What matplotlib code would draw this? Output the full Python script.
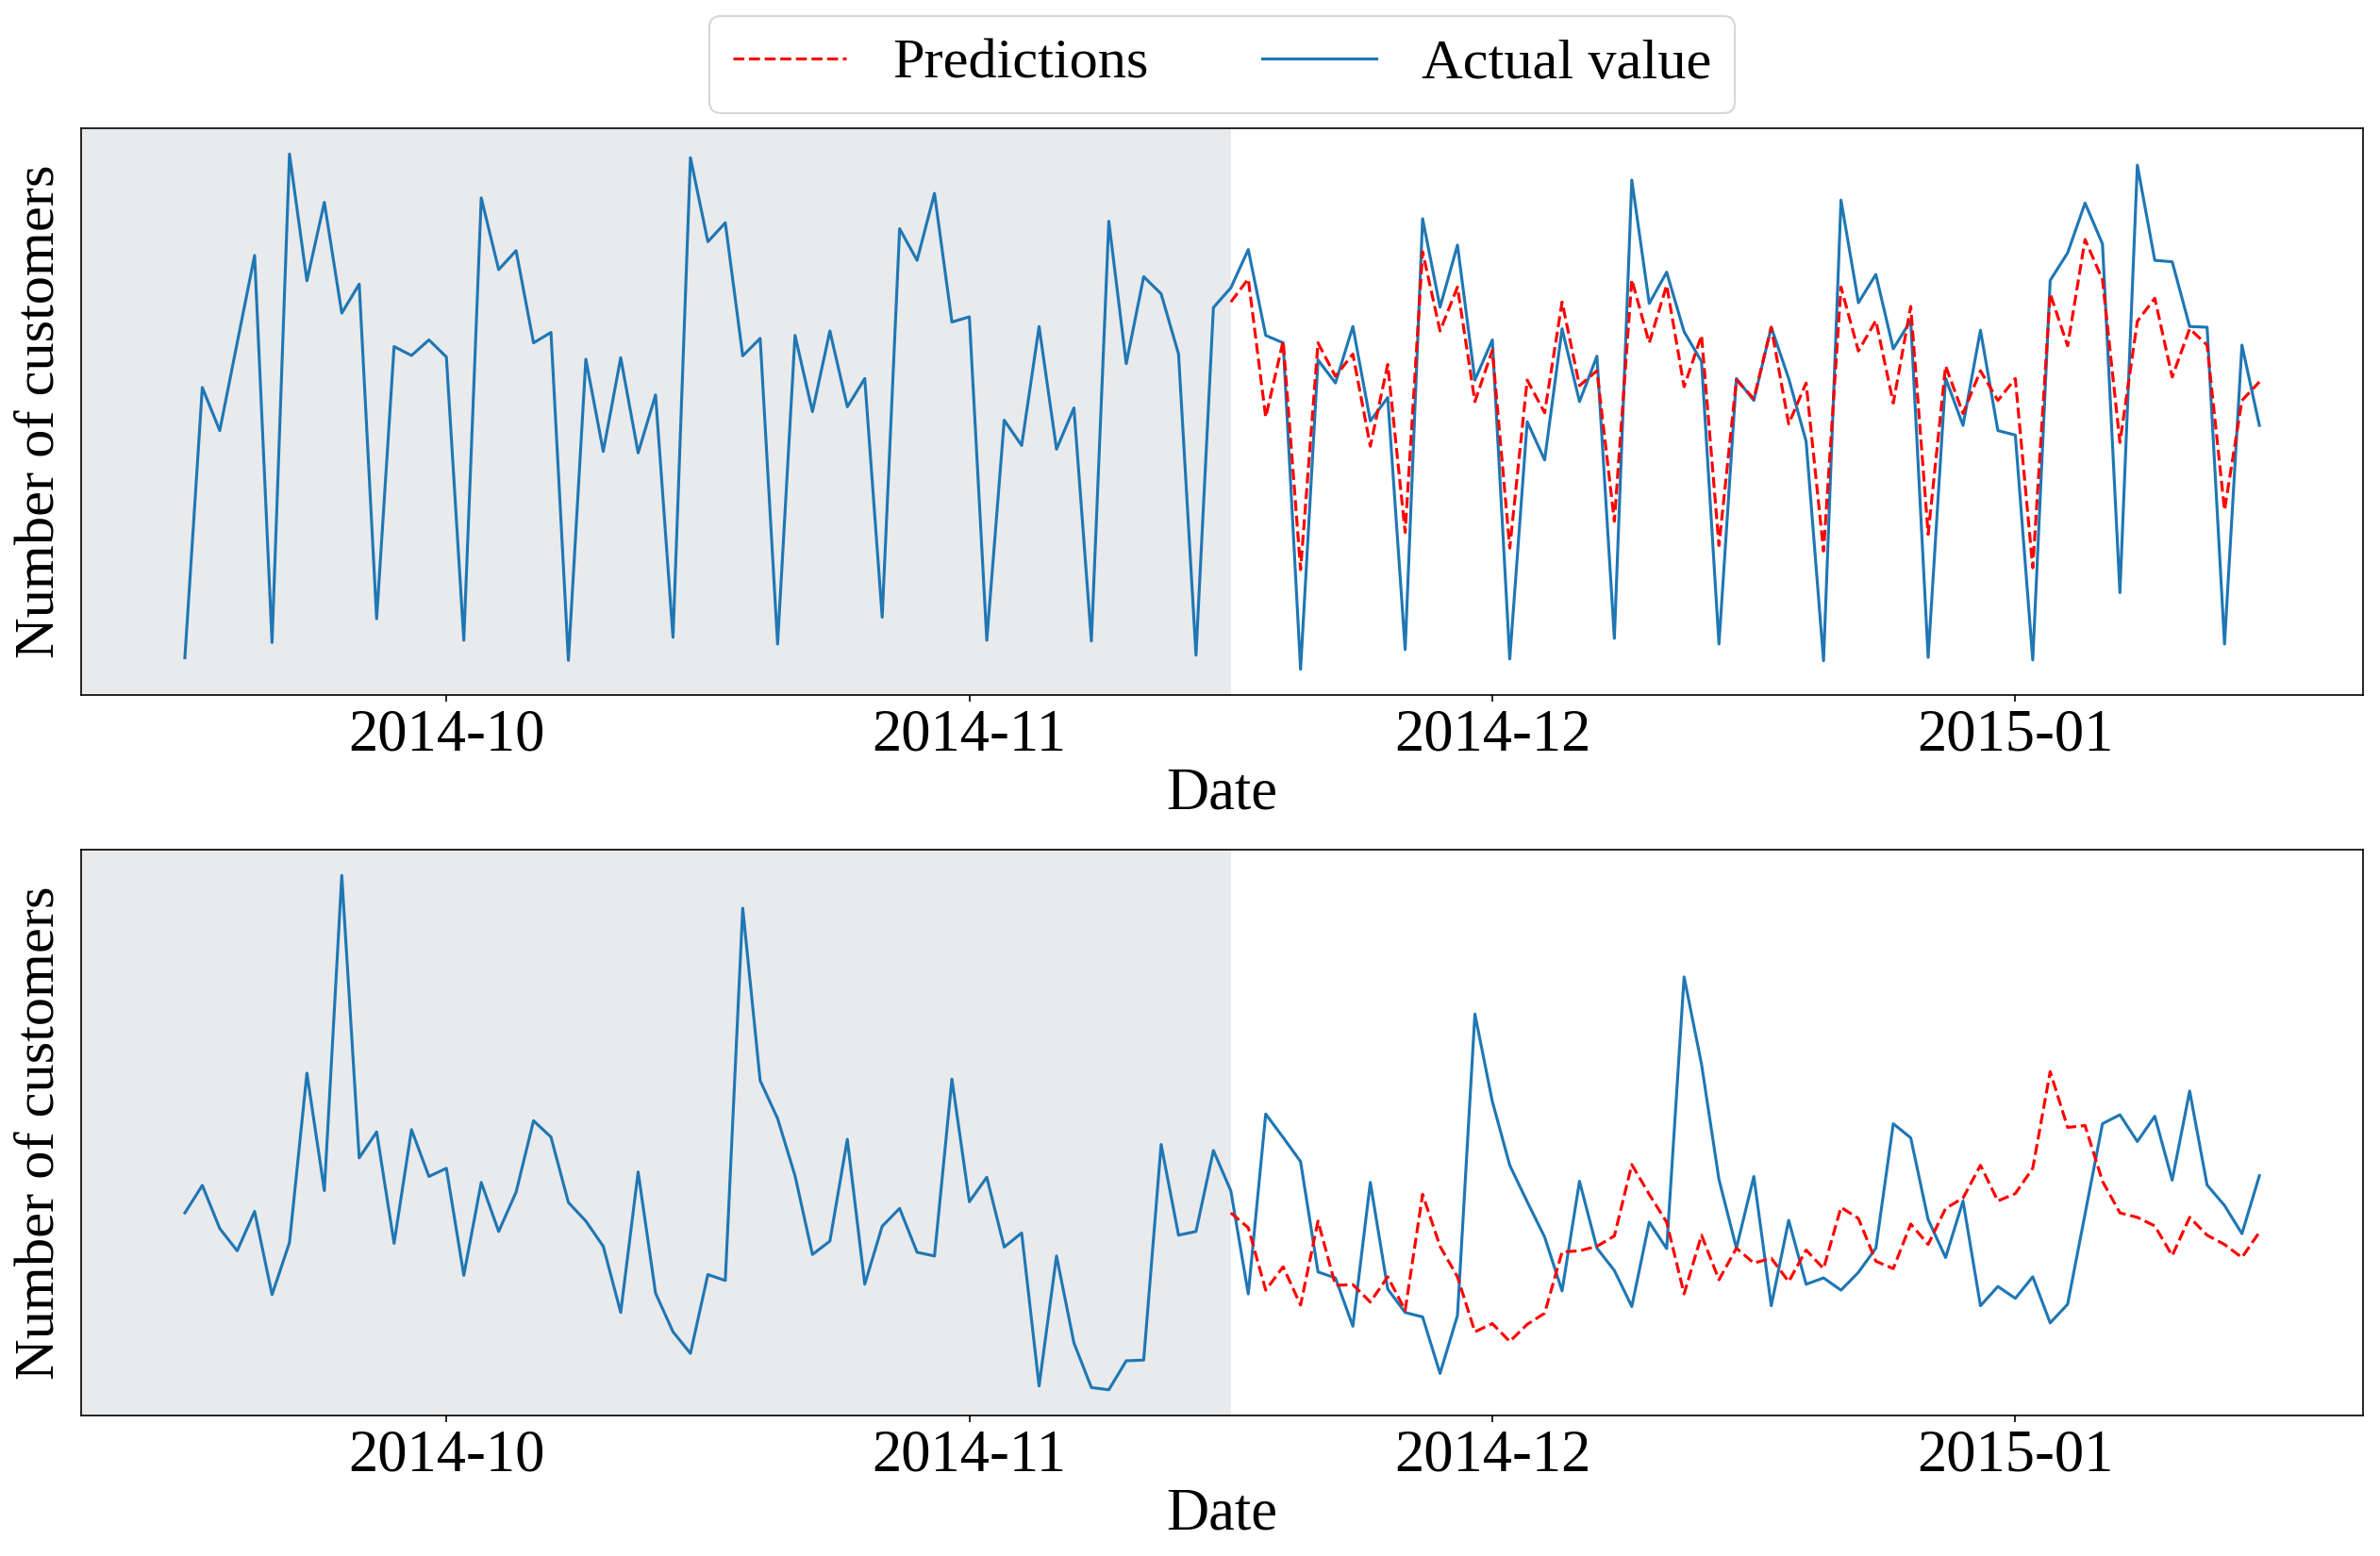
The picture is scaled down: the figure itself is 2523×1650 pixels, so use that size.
import matplotlib.pyplot as plt
import numpy as np

plt.rcParams['font.family'] = ['Liberation Serif', 'DejaVu Serif']
FS = 30

# daily customers, 120 days; first 60 used for training, last 60 predicted
store_a_actual = [163, 890, 774, 1010, 1245, 204, 1518, 1177, 1388, 1090,
                  1168, 268, 1000, 976, 1018, 972, 210, 1400, 1207, 1258,
                  1010, 1038, 156, 966, 718, 970, 714, 870, 218, 1508,
                  1282, 1333, 975, 1022, 200, 1030, 825, 1042, 838, 914,
                  272, 1317, 1232, 1412, 1066, 1080, 210, 802, 734, 1054,
                  724, 835, 208, 1337, 954, 1188, 1142, 980, 170, 1105,
                  1158, 1261, 1030, 1010, 132, 964, 902, 1054, 800, 863,
                  185, 1344, 1106, 1273, 910, 1018, 160, 798, 695, 1048,
                  852, 974, 215, 1448, 1116, 1200, 1040, 960, 200, 914,
                  855, 1052, 914, 745, 155, 1394, 1118, 1194, 994, 1070,
                  164, 915, 788, 1044, 774, 762, 157, 1178, 1252, 1386,
                  1276, 338, 1488, 1232, 1228, 1054, 1052, 200, 1004, 788]
store_a_pred = [1120, 1182, 810, 1015, 400, 1010, 920, 980, 732, 952,
                500, 1255, 1042, 1160, 852, 990, 458, 910, 822, 1120,
                895, 935, 530, 1180, 1010, 1165, 892, 1030, 465, 910,
                860, 1052, 792, 902, 450, 1160, 988, 1070, 848, 1108,
                495, 948, 820, 935, 855, 914, 405, 1142, 1002, 1288,
                1180, 742, 1068, 1130, 918, 1048, 1004, 560, 855, 905]

store_b_actual = [600, 674, 558, 498, 604, 380, 520, 976, 660, 1508,
                  748, 818, 518, 824, 698, 720, 432, 682, 550, 656,
                  848, 804, 628, 578, 510, 332, 710, 384, 280, 222,
                  434, 418, 1420, 956, 854, 700, 488, 524, 798, 408,
                  564, 612, 494, 484, 960, 630, 696, 508, 546, 134,
                  484, 250, 130, 124, 202, 204, 784, 540, 550, 768,
                  659, 382, 866, 803, 738, 441, 425, 295, 682, 395,
                  332, 320, 168, 324, 1135, 900, 728, 630, 535, 390,
                  685, 505, 445, 348, 575, 504, 1235, 1000, 690, 505,
                  698, 350, 580, 408, 425, 392, 440, 505, 840, 802,
                  582, 480, 632, 350, 402, 370, 428, 304, 354, 597,
                  840, 864, 792, 860, 688, 928, 675, 620, 544, 700]
store_b_pred = [600, 560, 392, 455, 352, 578, 405, 407, 360, 428,
                338, 650, 510, 428, 280, 302, 254, 300, 330, 495,
                498, 510, 538, 730, 650, 575, 382, 540, 420, 505,
                465, 478, 415, 500, 450, 615, 585, 470, 450, 570,
                515, 612, 640, 728, 632, 652, 720, 980, 830, 835,
                685, 600, 588, 565, 485, 588, 540, 515, 480, 548]

split_index = 60
tick_positions = [15, 45, 75, 105]
tick_labels = ['2014-10', '2014-11', '2014-12', '2015-01']

fig = plt.figure(figsize=(16.82, 11.0), dpi=150)
boxes = [[0.0341, 0.5533, 0.9588, 0.3643],
         [0.0341, 0.0903, 0.9588, 0.3636]]
series = [(store_a_actual, store_a_pred), (store_b_actual, store_b_pred)]

for box, (actual, pred) in zip(boxes, series):
    ax = fig.add_axes(box)
    x = np.arange(len(actual))
    actual_line, = ax.plot(x, actual, color='#1f77b4', label='Actual value')
    pred_line, = ax.plot(x[split_index:], pred, 'r--', label='Predictions')
    # shade the training window
    xlim = ax.get_xlim()
    ax.axvspan(xlim[0], split_index, color='#e9eaec', zorder=0, lw=0)
    ax.set_xlim(xlim)
    ax.set_yticks([])
    ax.set_xticks(tick_positions, tick_labels, fontsize=FS)
    ax.set_xlabel('Date', fontsize=FS, labelpad=2)
    ax.set_ylabel('Number of customers', fontsize=29, labelpad=8)

fig.legend(handles=[pred_line, actual_line], loc='upper center',
           bbox_to_anchor=(0.5135, 0.99), borderaxespad=0, ncol=2,
           fontsize=29)

fig.savefig('out.png', dpi=150)
